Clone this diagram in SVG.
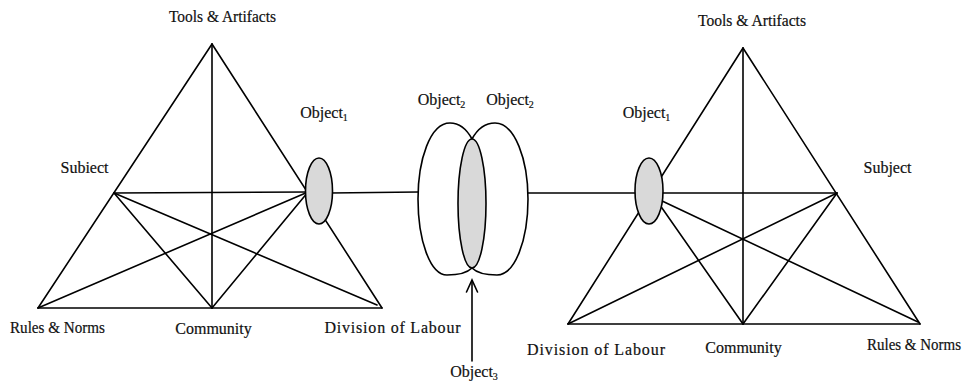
<svg xmlns="http://www.w3.org/2000/svg" width="969" height="381" viewBox="0 0 969 381">
<style>
  .ln { stroke: #000; stroke-width: 1.6; fill: none; stroke-linecap: round; }
  .obj { fill: #d9d9d9; stroke: #000; stroke-width: 1.6; }
  .lbl { font-family: "Liberation Serif", "Times New Roman", serif; font-size: 16px; fill: #111; text-anchor: middle; stroke: #111; stroke-width: 0.2; }
  .sub { font-size: 10px; }
</style>
<rect width="969" height="381" fill="#fff"/>

<g id="connectors">
  <!-- left triangle -->
  <line class="ln" x1="212" y1="44" x2="38" y2="308"/>
  <line class="ln" x1="212" y1="44" x2="382" y2="308"/>
  <line class="ln" x1="38" y1="308" x2="382" y2="308"/>
  <line class="ln" x1="212" y1="44" x2="212" y2="308"/>
  <line class="ln" x1="114" y1="193" x2="308" y2="192"/>
  <line class="ln" x1="114" y1="193" x2="212" y2="308"/>
  <line class="ln" x1="114" y1="193" x2="377" y2="305"/>
  <line class="ln" x1="308" y1="192" x2="38" y2="308"/>
  <line class="ln" x1="308" y1="192" x2="212" y2="308"/>
  <line class="ln" x1="330" y1="193" x2="418" y2="192"/>
  <!-- right triangle -->
  <line class="ln" x1="743" y1="48" x2="568" y2="324"/>
  <line class="ln" x1="743" y1="48" x2="920" y2="324"/>
  <line class="ln" x1="568" y1="324" x2="920" y2="324"/>
  <line class="ln" x1="743" y1="48" x2="743" y2="324"/>
  <line class="ln" x1="528" y1="193" x2="837" y2="193"/>
  <line class="ln" x1="837" y1="193" x2="743" y2="324"/>
  <line class="ln" x1="837" y1="193" x2="568" y2="324"/>
  <line class="ln" x1="655" y1="198" x2="743" y2="324"/>
  <line class="ln" x1="660" y1="200" x2="918" y2="322"/>
  <!-- arrow to Object3 -->
  <line class="ln" x1="472" y1="361" x2="472" y2="281"/>
  <polyline class="ln" points="466.5,292 472,280 477.5,292"/>
</g>

<g id="left-object1">
  <ellipse class="obj" cx="319" cy="191" rx="13.5" ry="33"/>
  <text class="lbl" x="324" y="118">Object<tspan class="sub" dy="3">1</tspan></text>
</g>
<g id="left-tools">
  <text class="lbl" x="222.5" y="22" textLength="107" lengthAdjust="spacingAndGlyphs">Tools &amp; Artifacts</text>
</g>
<g id="left-subject">
  <text class="lbl" x="84.5" y="173">Subiect</text>
</g>
<g id="left-rules">
  <text class="lbl" x="57.5" y="333" textLength="95" lengthAdjust="spacingAndGlyphs">Rules &amp; Norms</text>
</g>
<g id="left-community">
  <text class="lbl" x="213.5" y="334">Community</text>
</g>
<g id="left-division">
  <text class="lbl" x="392.5" y="333" textLength="136" lengthAdjust="spacing">Division of Labour</text>
</g>

<g id="object2-left">
  <path class="ln" d="M472,139 C466,128 458,123 450,123 C430,123 418,160 418,199 C418,240 430,275 447,275 C458,275 467,273 472,268"/>
  <text class="lbl" x="441.5" y="105">Object<tspan class="sub" dy="3">2</tspan></text>
</g>
<g id="object2-right">
  <path class="ln" d="M472,139 C478,128 486,123 495,123 C515,123 528,160 528,199 C528,240 515,275 497,275 C486,275 477,273 472,268"/>
  <text class="lbl" x="510" y="105">Object<tspan class="sub" dy="3">2</tspan></text>
</g>
<g id="object3">
  <ellipse class="obj" cx="472" cy="203.5" rx="14" ry="64.5"/>
  <text class="lbl" x="474" y="377">Object<tspan class="sub" dy="3">3</tspan></text>
</g>

<g id="right-object1">
  <ellipse class="obj" cx="649" cy="191" rx="14" ry="33"/>
  <text class="lbl" x="646.5" y="118">Object<tspan class="sub" dy="3">1</tspan></text>
</g>
<g id="right-tools">
  <text class="lbl" x="752" y="26" textLength="108" lengthAdjust="spacingAndGlyphs">Tools &amp; Artifacts</text>
</g>
<g id="right-subject">
  <text class="lbl" x="887.5" y="173">Subject</text>
</g>
<g id="right-division">
  <text class="lbl" x="596" y="355" textLength="138" lengthAdjust="spacing">Division of Labour</text>
</g>
<g id="right-community">
  <text class="lbl" x="743.5" y="353">Community</text>
</g>
<g id="right-rules">
  <text class="lbl" x="914" y="350" textLength="94" lengthAdjust="spacingAndGlyphs">Rules &amp; Norms</text>
</g>
</svg>
